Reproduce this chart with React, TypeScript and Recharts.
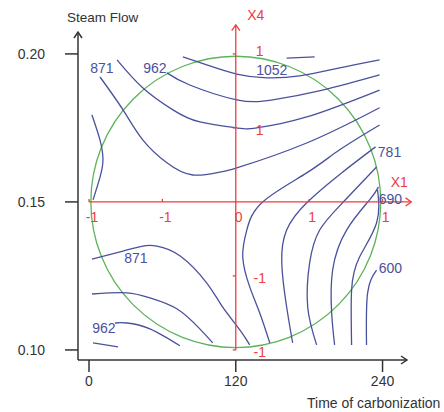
import { LineChart, Line, XAxis, YAxis, ReferenceLine, ReferenceArea, ReferenceDot } from "recharts";

type P = { x: number; y: number };
const pts = (a: number[][]): P[] => a.map(([x, y]) => ({ x, y }));

// contour lines (x = time of carbonization, y = steam flow)
const contourTopShort = pts([[161.6, 0.1986], [184.5, 0.199]]);
const contour1052 = pts([[76.7, 0.199], [96.3, 0.1963], [120.8, 0.1932], [145.3, 0.1919], [172.2, 0.1926], [204.9, 0.1953], [237.6, 0.198]]);
const contour962 = pts([[63.7, 0.1936], [82.4, 0.1895], [120.8, 0.1845], [150.2, 0.1845], [191.0, 0.1878], [237.6, 0.1929]]);
const contour916 = pts([[22.9, 0.198], [44.1, 0.1885], [68.6, 0.1811], [90.6, 0.177], [120.8, 0.175], [137.1, 0.175], [178.0, 0.1787], [237.6, 0.1878]]);
const contour871 = pts([[9.0, 0.1922], [27.8, 0.1811], [44.1, 0.1709], [63.7, 0.1632], [84.9, 0.1591], [106.9, 0.1601], [120.8, 0.1615], [178.0, 0.1699], [237.6, 0.1818]]);
const contour826 = pts([[237.6, 0.176], [204.9, 0.1676], [178.0, 0.1598], [142.0, 0.15], [129.0, 0.1405], [125.7, 0.1314], [131.4, 0.1213], [139.6, 0.1125], [147.8, 0.1024]]);
const contour781 = pts([[234.3, 0.1686], [206.5, 0.1598], [178.0, 0.1497], [161.6, 0.1405], [157.6, 0.1294], [161.6, 0.1145], [166.5, 0.1024]]);
const contour736 = pts([[235.1, 0.1618], [207.3, 0.1497], [188.6, 0.1405], [180.4, 0.1294], [178.8, 0.1145], [186.1, 0.1017]]);
const contour690 = pts([[236.7, 0.1551], [229.4, 0.1507], [210.6, 0.1405], [199.2, 0.127], [198.4, 0.1125], [200.8, 0.1017]]);
const contour645 = pts([[235.9, 0.1541], [235.1, 0.1429], [221.2, 0.1314], [214.7, 0.1203], [214.7, 0.1017]]);
const contour600 = pts([[235.1, 0.127], [227.8, 0.1193], [226.9, 0.1017]]);
const contourLeftArc = pts([[2.4, 0.1794], [9.0, 0.1709], [11.4, 0.1642], [9.0, 0.1584], [3.3, 0.1507]]);
const contourLow871 = pts([[2.4, 0.1307], [27.8, 0.1334], [44.1, 0.1351], [55.5, 0.1351], [74.3, 0.1318], [96.3, 0.1226], [108.6, 0.1149], [123.3, 0.1068], [131.4, 0.1017]]);
const contourLow916 = pts([[2.4, 0.1189], [31.0, 0.1193], [49.8, 0.1176], [71.8, 0.1139], [90.6, 0.1071], [101.2, 0.1024]]);
const contourLow962 = pts([[21.2, 0.1091], [31.0, 0.1091], [49.8, 0.1071], [74.3, 0.1014]]);
const contourLowShort = pts([[3.3, 0.1024], [23.7, 0.101]]);

const contours = [
  contourTopShort, contour1052, contour962, contour916, contour871, contour826, contour781,
  contour736, contour690, contour645, contour600, contourLeftArc, contourLow871, contourLow916,
  contourLow962, contourLowShort,
];

const labelText = ["871", "962", "1052", "781", "690", "600", "871", "962"];
const labelX = [10.6, 53.9, 149.5, 245.7, 246.5, 246.5, 38.4, 12.2];
const labelY = [0.1953, 0.1953, 0.1945, 0.1669, 0.151, 0.1277, 0.1311, 0.1074];

const xTicks = [0, 120, 240];
const yTicks = [0.1, 0.15, 0.2];
const codedX = [0, 60, 120, 180, 240];
const codedXText = ["-1", "-1", "0", "1", "1"];
const codedY = [0.2, 0.175, 0.125, 0.1];
const codedYText = ["1", "1", "-1", "-1"];

const BLUE = "#4a519c";
const RED = "#ee3d3d";
const GREEN = "#5db35a";
const INK = "#333";
const FONT = "'Liberation Sans', Arial, sans-serif";

const arrowLine = (color: string, label: string, dx: number, dy: number) => (p: any) => {
  const { x1, y1, x2, y2 } = p;
  const a = Math.atan2(y2 - y1, x2 - x1);
  const L = 7;
  const w = 0.62;
  const ax = (s: number) => x2 - L * Math.cos(a + s * w);
  const ay = (s: number) => y2 - L * Math.sin(a + s * w);
  return (
    <g>
      <line x1={x1} y1={y1} x2={x2} y2={y2} stroke={color} strokeWidth={1.3} />
      <polyline points={`${ax(-1)},${ay(-1)} ${x2},${y2} ${ax(1)},${ay(1)}`} fill="none" stroke={color} strokeWidth={1.3} />
      <text x={x2 + dx} y={y2 + dy} fill={color} fontSize={14} fontFamily={FONT} textAnchor="middle" dominantBaseline="central">
        {label}
      </text>
    </g>
  );
};

const chevron = (dir: "up" | "right") => (p: any) => {
  const { cx, cy } = p;
  const d = dir === "up" ? `M${cx - 4},${cy + 6} L${cx},${cy} L${cx + 4},${cy + 6}` : `M${cx - 6},${cy - 4} L${cx},${cy} L${cx - 6},${cy + 4}`;
  return <path d={d} fill="none" stroke={INK} strokeWidth={1.5} />;
};

export default function App() {
  return (
    <div style={{ position: "absolute", left: 0, top: 0, width: 444, height: 412, background: "#fff", fontFamily: FONT }}>
      <div style={{ position: "absolute", left: 67, top: 10, fontSize: 13.5, lineHeight: "16px", color: INK }}>Steam Flow</div>
      <div style={{ position: "absolute", left: 307, top: 395, fontSize: 14, lineHeight: "16px", color: INK }}>Time of carbonization</div>
      <LineChart width={444} height={412} margin={{ top: 32, right: 37, left: 0, bottom: 0 }}>
        <XAxis
          type="number"
          dataKey="x"
          domain={[-9, 260]}
          ticks={xTicks}
          allowDataOverflow
          height={52}
          tickSize={12}
          tickMargin={4}
          stroke={INK}
          strokeWidth={1.5}
          tick={{ fill: INK, fontSize: 14, fontFamily: FONT }}
        />
        <YAxis
          type="number"
          dataKey="y"
          domain={[0.0966, 0.2074]}
          ticks={yTicks}
          allowDataOverflow
          width={78}
          tickSize={13}
          tickMargin={20}
          stroke={INK}
          strokeWidth={1.5}
          tickFormatter={(v: number) => v.toFixed(2)}
          tick={{ fill: INK, fontSize: 14, fontFamily: FONT }}
        />
        <ReferenceArea
          x1={1.5}
          x2={238.5}
          y1={0.1008}
          y2={0.1992}
          ifOverflow="visible"
          shape={(p: any) => (
            <ellipse cx={p.x + p.width / 2} cy={p.y + p.height / 2} rx={p.width / 2} ry={p.height / 2} fill="none" stroke={GREEN} strokeWidth={1.3} />
          )}
        />
        {contours.map((c, i) => (
          <Line
            key={i}
            data={c}
            dataKey="y"
            type="natural"
            stroke={BLUE}
            strokeWidth={1.3}
            dot={false}
            activeDot={false}
            isAnimationActive={false}
          />
        ))}
        <ReferenceLine
          segment={[{ x: 0, y: 0.15 }, { x: 263.5, y: 0.15 }]}
          ifOverflow="visible"
          shape={arrowLine(RED, "X1", -12, -20)}
        />
        <ReferenceLine
          segment={[{ x: 120, y: 0.1 }, { x: 120, y: 0.2098 }]}
          ifOverflow="visible"
          shape={arrowLine(RED, "X4", 20, -10)}
        />
        {codedX.map((v, i) => (
          <ReferenceDot
            key={"cx" + i}
            x={v}
            y={0.15}
            ifOverflow="visible"
            shape={(p: any) => (
              <g>
                {v !== 120 && <line x1={p.cx} y1={p.cy - 3} x2={p.cx} y2={p.cy} stroke={RED} strokeWidth={1.3} />}
                <text x={p.cx + 3} y={p.cy + 15} fill={RED} fontSize={14} fontFamily={FONT} textAnchor="middle" dominantBaseline="central">
                  {codedXText[i]}
                </text>
              </g>
            )}
          />
        ))}
        {codedY.map((v, i) => (
          <ReferenceDot
            key={"cy" + i}
            x={120}
            y={v}
            ifOverflow="visible"
            shape={(p: any) => (
              <g>
                <line x1={p.cx - 3} y1={p.cy} x2={p.cx} y2={p.cy} stroke={RED} strokeWidth={1.3} />
                <text x={p.cx + 24} y={p.cy + (i === 0 ? -3 : 2)} fill={RED} fontSize={14} fontFamily={FONT} textAnchor="middle" dominantBaseline="central">
                  {codedYText[i]}
                </text>
              </g>
            )}
          />
        ))}
        {labelText.map((t, i) => (
          <ReferenceDot
            key={"l" + i}
            x={labelX[i]}
            y={labelY[i]}
            ifOverflow="visible"
            shape={(p: any) => (
              <text x={p.cx} y={p.cy} fill={BLUE} fontSize={14} fontFamily={FONT} textAnchor="middle" dominantBaseline="central">
                {t}
              </text>
            )}
          />
        ))}
        <ReferenceDot x={-9} y={0.2074} ifOverflow="visible" shape={chevron("up")} />
        <ReferenceDot x={260} y={0.0966} ifOverflow="visible" shape={chevron("right")} />
      </LineChart>
    </div>
  );
}
